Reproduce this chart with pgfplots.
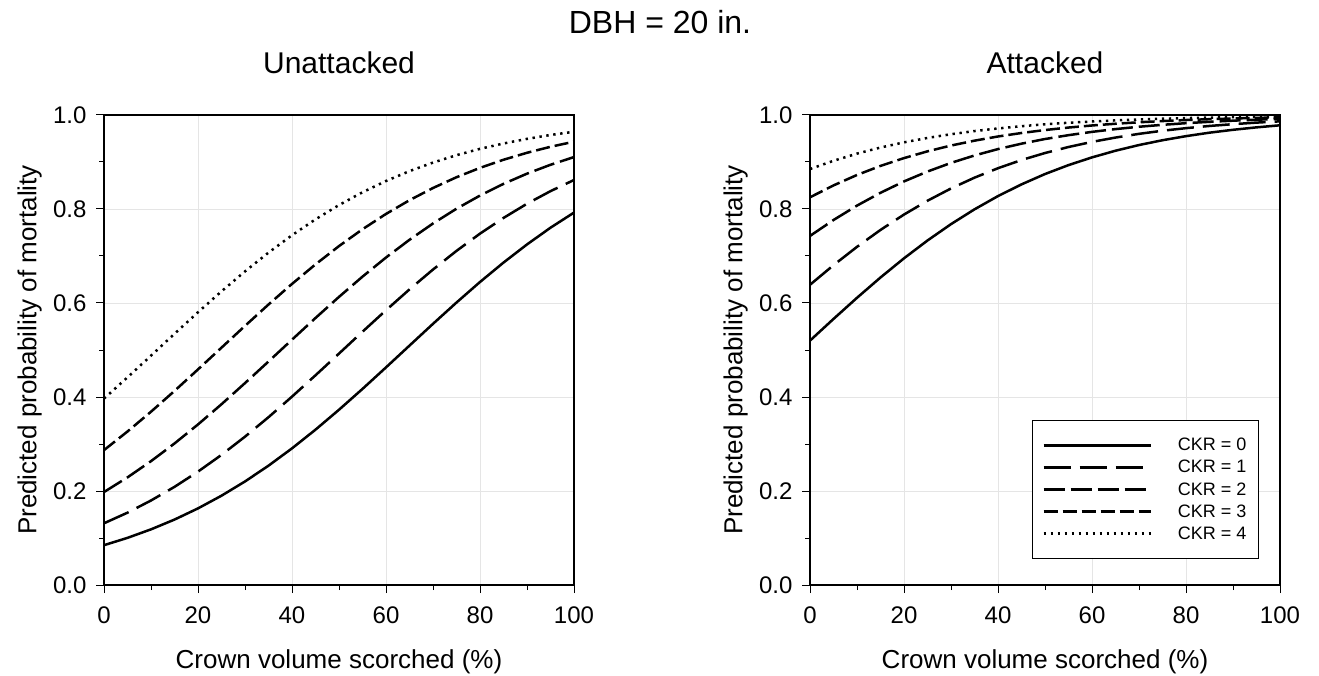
\documentclass[border=0pt]{standalone}
\usepackage{fontspec}
\setmainfont{Liberation Sans}
\usepackage{pgfplots}
\usepackage{pgfplotstable}
\pgfplotsset{compat=1.18}

\pgfplotstableread{
x c0 c1 c2 c3 c4
0 0.0847 0.1313 0.1978 0.2870 0.3966
5 0.1003 0.1539 0.2290 0.3266 0.4418
10 0.1184 0.1798 0.2635 0.3687 0.4880
15 0.1392 0.2088 0.3011 0.4129 0.5345
20 0.1630 0.2412 0.3416 0.4587 0.5803
25 0.1900 0.2769 0.3846 0.5050 0.6248
30 0.2203 0.3156 0.4296 0.5513 0.6673
35 0.2539 0.3570 0.4755 0.5968 0.7072
40 0.2907 0.4008 0.5220 0.6406 0.7442
45 0.3305 0.4462 0.5681 0.6822 0.7780
50 0.3729 0.4924 0.6130 0.7211 0.8084
55 0.4172 0.5389 0.6561 0.7569 0.8356
60 0.4630 0.5846 0.6968 0.7895 0.8596
65 0.5094 0.6290 0.7345 0.8187 0.8806
70 0.5557 0.6712 0.7692 0.8447 0.8988
75 0.6010 0.7109 0.8006 0.8676 0.9145
80 0.6447 0.7476 0.8286 0.8875 0.9280
85 0.6860 0.7810 0.8535 0.9048 0.9394
90 0.7246 0.8112 0.8752 0.9196 0.9492
95 0.7602 0.8380 0.8941 0.9324 0.9575
100 0.7924 0.8617 0.9105 0.9432 0.9644
}\unattacked

\pgfplotstableread{
x c0 c1 c2 c3 c4
0 0.5200 0.6388 0.7427 0.8249 0.8850
5 0.5661 0.6805 0.7766 0.8502 0.9026
10 0.6111 0.7195 0.8072 0.8724 0.9178
15 0.6543 0.7555 0.8345 0.8917 0.9308
20 0.6951 0.7882 0.8587 0.9083 0.9418
25 0.7330 0.8176 0.8797 0.9227 0.9512
30 0.7678 0.8437 0.8981 0.9350 0.9591
35 0.7993 0.8667 0.9139 0.9454 0.9658
40 0.8275 0.8868 0.9275 0.9543 0.9714
45 0.8524 0.9042 0.9390 0.9617 0.9762
50 0.8744 0.9191 0.9489 0.9680 0.9802
55 0.8934 0.9319 0.9571 0.9733 0.9835
60 0.9098 0.9428 0.9641 0.9777 0.9862
65 0.9240 0.9520 0.9700 0.9814 0.9885
70 0.9361 0.9599 0.9750 0.9845 0.9905
75 0.9463 0.9665 0.9791 0.9871 0.9921
80 0.9550 0.9720 0.9826 0.9893 0.9934
85 0.9624 0.9767 0.9855 0.9911 0.9945
90 0.9685 0.9805 0.9879 0.9926 0.9954
95 0.9737 0.9838 0.9900 0.9938 0.9962
100 0.9781 0.9865 0.9917 0.9949 0.9968
}\attacked

\pgfplotsset{
  panel/.style={
    scale only axis, width=470pt, height=470pt,
    anchor=south west,
    xmin=0, xmax=100, ymin=0, ymax=1,
    xtick={0,20,...,100}, ytick={0,0.2,...,1.0},
    minor xtick={10,30,...,90}, minor ytick={0.1,0.3,...,0.9},
    /pgf/number format/assume math mode=true,
    tick align=outside, tick pos=left,
    major tick length=8pt, minor tick length=5pt,
    every tick/.style={black, line width=1pt},
    axis line style={line width=1.2pt},
    grid=major, major grid style={gray!20, line width=0.8pt},
    ticklabel style={font=\fontsize{24}{28}\selectfont},
    xticklabel style={yshift=-10pt},
    yticklabel style={/pgf/number format/fixed, /pgf/number format/fixed zerofill,
      /pgf/number format/precision=1, xshift=-6pt},
    label style={font=\fontsize{26}{30}\selectfont},
    title style={font=\fontsize{30}{34}\selectfont, at={(axis description cs:0.5,1.068)}, anchor=south},
    xlabel={Crown volume scorched (\%)},
    ylabel={Predicted probability of mortality},
    xlabel style={at={(axis description cs:0.5,-0.13)}, anchor=north},
    ylabel style={at={(axis description cs:-0.125,0.5)}, anchor=south},
    clip=false,
  },
  k0/.style={black, line width=2.5pt, solid},
  k1/.style={black, line width=2.5pt, dash pattern=on 27pt off 9pt},
  k2/.style={black, line width=2.5pt, dash pattern=on 21pt off 6pt},
  k3/.style={black, line width=2.5pt, dash pattern=on 14pt off 5pt},
  k4/.style={black, line width=2.5pt, dash pattern=on 2.4pt off 4.6pt},
}

\begin{document}
\begin{tikzpicture}
\useasboundingbox (0pt,0pt) rectangle (1319pt,675pt);
\node[font=\fontsize{32}{36}\selectfont] at (660pt,653pt) {DBH = 20 in.};

\begin{axis}[panel, at={(104pt,90pt)}, title={Unattacked}]
\addplot[k0] table[x=x,y=c0] {\unattacked};
\addplot[k1] table[x=x,y=c1] {\unattacked};
\addplot[k2] table[x=x,y=c2] {\unattacked};
\addplot[k3] table[x=x,y=c3] {\unattacked};
\addplot[k4] table[x=x,y=c4] {\unattacked};
\end{axis}

\begin{axis}[panel, at={(810pt,90pt)}, title={Attacked},
  legend cell align=left,
  legend image code/.code={\draw[#1] (0pt,0pt) -- (107pt,0pt);},
  legend style={at={(axis description cs:0.955,0.055)}, anchor=south east,
    font=\fontsize{18}{21}\selectfont, draw=black, line width=1pt,
    inner xsep=10pt, inner ysep=16pt, row sep=4pt,
    /tikz/every odd column/.append style={column sep=24pt}},
]
\addplot[k0] table[x=x,y=c0] {\attacked};
\addplot[k1] table[x=x,y=c1] {\attacked};
\addplot[k2] table[x=x,y=c2] {\attacked};
\addplot[k3] table[x=x,y=c3] {\attacked};
\addplot[k4] table[x=x,y=c4] {\attacked};
\legend{CKR = 0, CKR = 1, CKR = 2, CKR = 3, CKR = 4}
\end{axis}
\end{tikzpicture}
\end{document}
